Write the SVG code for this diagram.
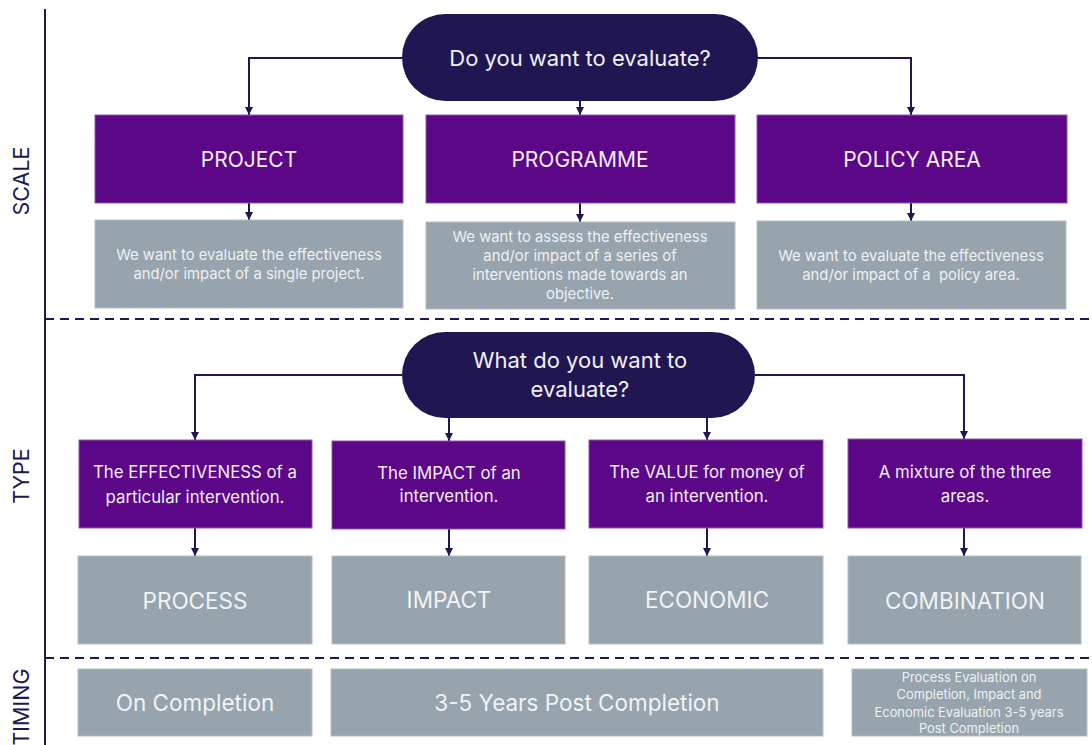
<svg xmlns="http://www.w3.org/2000/svg" width="1092" height="745" viewBox="0 0 1092 745">
  <defs>
    <marker id="arrow" viewBox="0 0 10 10" refX="10" refY="5" markerWidth="8" markerHeight="8" markerUnits="userSpaceOnUse" orient="auto">
      <path d="M0,0 L10,5 L0,10 z" fill="#201752"/>
    </marker>
    <style>
      .axis { stroke: #201752; stroke-width: 2; fill: none; }
      .divider { stroke: #201752; stroke-width: 2; stroke-dasharray: 9 6; fill: none; }
      .side { font-family: Inter, "Noto Sans", sans-serif; font-size: 21.5px; fill: #201752; text-anchor: middle; }
      .pill { fill: #201752; }
      .pill-text { font-family: Inter, "Noto Sans", sans-serif; font-size: 22px; fill: #F1F0F6; text-anchor: middle; }
      .scale { fill: #5C0787; stroke: #8A5AAE; stroke-width: 1; }
      .desc { fill: #97A3AD; stroke: #B4BDC4; stroke-width: 1; }
      .title { font-family: Inter, "Noto Sans", sans-serif; font-size: 21px; fill: #F3EEF6; text-anchor: middle; }
      .body { font-family: Inter, "Noto Sans", sans-serif; font-size: 14.8px; fill: #EEF1F3; text-anchor: middle; }
      .type-text { font-family: Inter, "Noto Sans", sans-serif; font-size: 16.8px; fill: #F3EEF6; text-anchor: middle; }
      .label { font-family: Inter, "Noto Sans", sans-serif; font-size: 22.5px; fill: #F1F3F5; text-anchor: middle; }
      .small { font-family: Inter, "Noto Sans", sans-serif; font-size: 12.9px; fill: #EEF1F3; text-anchor: middle; }
      .conn { stroke: #201752; stroke-width: 2; fill: none; marker-end: url(#arrow); }
      .keep-spaces { white-space: pre; }
    </style>
  </defs>

  <rect width="1092" height="745" fill="#FFFFFF"/>

  <!-- section axis and dividers -->
  <g id="frame">
    <line class="axis" x1="45" y1="9" x2="45" y2="745"/>
    <line class="divider" x1="45" y1="319" x2="1092" y2="319"/>
    <line class="divider" x1="45" y1="658" x2="1092" y2="658"/>
    <text class="side" transform="translate(29,181) rotate(-90)">SCALE</text>
    <text class="side" transform="translate(29,476) rotate(-90)">TYPE</text>
    <text class="side" transform="translate(29,707) rotate(-90)">TIMING</text>
  </g>

  <!-- connectors -->
  <g id="connectors">
    <path class="conn" d="M402,58 H249 V115"/>
    <path class="conn" d="M758,58 H911 V115"/>
    <path class="conn" d="M580,101 V115"/>
    <path class="conn" d="M249,203 V220"/>
    <path class="conn" d="M580,203 V222"/>
    <path class="conn" d="M911,203 V221"/>

    <path class="conn" d="M402,375 H195 V440"/>
    <path class="conn" d="M755,375 H964 V439"/>
    <path class="conn" d="M449,418 V441"/>
    <path class="conn" d="M707,418 V440"/>

    <path class="conn" d="M195,528 V556"/>
    <path class="conn" d="M449,529 V556"/>
    <path class="conn" d="M707,528 V556"/>
    <path class="conn" d="M964,528 V556"/>
  </g>

  <!-- scale -->
  <g id="q-scale">
    <rect class="pill" x="402" y="14" width="356" height="87" rx="43.5"/>
    <text class="pill-text" x="580" y="66">Do you want to evaluate?</text>
  </g>

  <g id="project">
    <rect class="scale" x="95" y="115" width="308" height="88"/>
    <text class="title" x="249" y="167">PROJECT</text>
  </g>
  <g id="project-desc">
    <rect class="desc" x="95" y="220" width="308" height="88"/>
    <text class="body" x="249" y="260">We want to evaluate the effectiveness</text>
    <text class="body" x="249" y="279">and/or impact of a single project.</text>
  </g>

  <g id="programme">
    <rect class="scale" x="426" y="115" width="309" height="88"/>
    <text class="title" x="580" y="167">PROGRAMME</text>
  </g>
  <g id="programme-desc">
    <rect class="desc" x="426" y="222" width="309" height="87"/>
    <text class="body" x="580" y="242">We want to assess the effectiveness</text>
    <text class="body" x="580" y="261">and/or impact of a series of</text>
    <text class="body" x="580" y="280">interventions made towards an</text>
    <text class="body" x="580" y="299">objective.</text>
  </g>

  <g id="policy-area">
    <rect class="scale" x="757" y="115" width="310" height="88"/>
    <text class="title" x="912" y="167">POLICY AREA</text>
  </g>
  <g id="policy-area-desc">
    <rect class="desc" x="757" y="221" width="309" height="88"/>
    <text class="body" x="911" y="261">We want to evaluate the effectiveness</text>
    <text class="body keep-spaces" x="911" y="280">and/or impact of a  policy area.</text>
  </g>

  <!-- type -->
  <g id="q-type">
    <rect class="pill" x="402" y="332" width="353" height="86" rx="43"/>
    <text class="pill-text" x="580" y="368">What do you want to</text>
    <text class="pill-text" x="580" y="397">evaluate?</text>
  </g>

  <g id="effectiveness">
    <rect class="scale" x="79" y="440" width="233" height="88"/>
    <text class="type-text" x="195" y="478">The EFFECTIVENESS of a</text>
    <text class="type-text" x="195" y="503">particular intervention.</text>
  </g>
  <g id="impact-q">
    <rect class="scale" x="332" y="441" width="233" height="88"/>
    <text class="type-text" x="449" y="479">The IMPACT of an</text>
    <text class="type-text" x="449" y="502">intervention.</text>
  </g>
  <g id="value">
    <rect class="scale" x="589" y="440" width="234" height="88"/>
    <text class="type-text" x="707" y="478">The VALUE for money of</text>
    <text class="type-text" x="707" y="502">an intervention.</text>
  </g>
  <g id="mixture">
    <rect class="scale" x="848" y="439" width="234" height="89"/>
    <text class="type-text" x="965" y="478">A mixture of the three</text>
    <text class="type-text" x="965" y="502">areas.</text>
  </g>

  <g id="process">
    <rect class="desc" x="78" y="556" width="234" height="88"/>
    <text class="label" x="195" y="609">PROCESS</text>
  </g>
  <g id="impact">
    <rect class="desc" x="332" y="556" width="233" height="88"/>
    <text class="label" x="449" y="608">IMPACT</text>
  </g>
  <g id="economic">
    <rect class="desc" x="589" y="556" width="234" height="88"/>
    <text class="label" x="707" y="608">ECONOMIC</text>
  </g>
  <g id="combination">
    <rect class="desc" x="848" y="556" width="233" height="88"/>
    <text class="label" x="965" y="609">COMBINATION</text>
  </g>

  <!-- timing -->
  <g id="on-completion">
    <rect class="desc" x="78" y="669" width="234" height="67"/>
    <text class="label" x="195" y="711">On Completion</text>
  </g>
  <g id="post-completion">
    <rect class="desc" x="331" y="669" width="492" height="67"/>
    <text class="label" x="577" y="711">3-5 Years Post Completion</text>
  </g>
  <g id="mixed-timing">
    <rect class="desc" x="852" y="669" width="235" height="67"/>
    <text class="small" x="969" y="682">Process Evaluation on</text>
    <text class="small" x="969" y="699">Completion, Impact and</text>
    <text class="small" x="969" y="717">Economic Evaluation 3-5 years</text>
    <text class="small" x="969" y="733">Post Completion</text>
  </g>
</svg>
